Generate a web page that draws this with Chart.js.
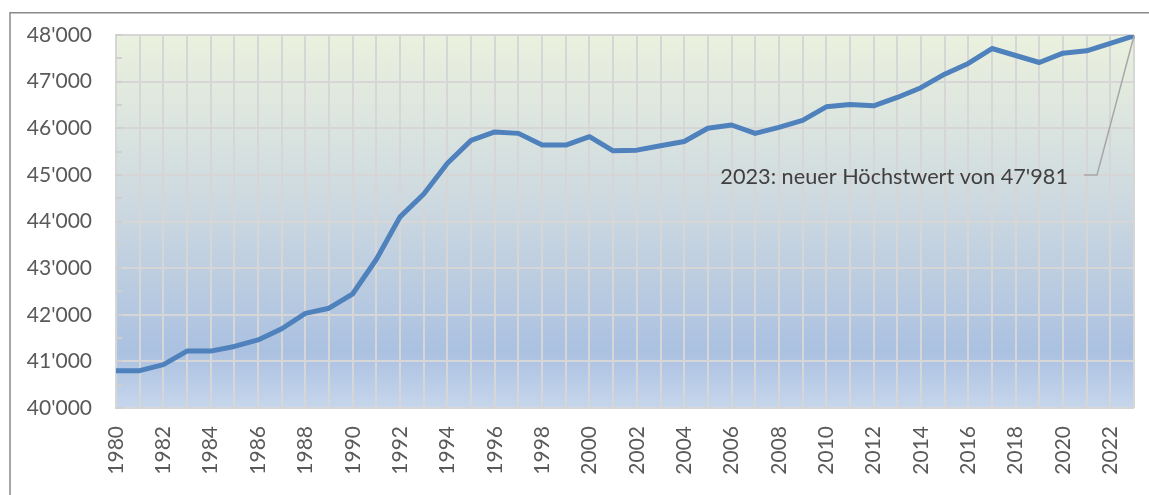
<!DOCTYPE html>
<html>
<head>
<meta charset="utf-8">
<script src="https://cdn.jsdelivr.net/npm/chart.js@4/dist/chart.umd.min.js"></script>
<style>
  html, body { margin: 0; padding: 0; background: #ffffff; }
  #wrap { width: 1149px; height: 495px; position: relative; }
</style>
</head>
<body>
<div id="wrap"><canvas id="c" width="1149" height="495"></canvas></div>
<script>
const years = ['1980','1981','1982','1983','1984','1985','1986','1987','1988','1989',
  '1990','1991','1992','1993','1994','1995','1996','1997','1998','1999',
  '2000','2001','2002','2003','2004','2005','2006','2007','2008','2009',
  '2010','2011','2012','2013','2014','2015','2016','2017','2018','2019',
  '2020','2021','2022','2023'];
const population = [40800, 40800, 40930, 41220, 41220, 41320, 41460, 41700, 42030, 42140,
  42450, 43190, 44100, 44590, 45250, 45740, 45920, 45890, 45640, 45640,
  45820, 45515, 45530, 45625, 45715, 46000, 46070, 45890, 46020, 46170,
  46460, 46510, 46480, 46660, 46870, 47160, 47390, 47710, 47560, 47410,
  47610, 47660, 47820, 47981];
const yMin = 40000;
const yMax = 48000;
const yStep = 500;
const annotationText = "2023: neuer Höchstwert von 47'981";

function fmt(v) {
  return String(v).replace(/\B(?=(\d{3})+(?!\d))/g, "'");
}

const FONT = 'Lato, "Open Sans", sans-serif';

const bgPlugin = {
  id: 'bg',
  beforeDraw(chart) {
    const { ctx, chartArea: a } = chart;
    ctx.save();
    const g = ctx.createLinearGradient(0, a.top, 0, a.bottom);
    g.addColorStop(0, '#ebf1de');
    g.addColorStop(0.45, '#cdd9e0');
    g.addColorStop(0.85, '#abc1e1');
    g.addColorStop(1, '#c6d6ec');
    ctx.fillStyle = g;
    ctx.fillRect(a.left, a.top, a.right - a.left, a.bottom - a.top);
    // outer frame
    ctx.strokeStyle = '#8a8a8a';
    ctx.lineWidth = 1.5;
    ctx.beginPath();
    ctx.moveTo(10, 495);
    ctx.lineTo(10, 12.75);
    ctx.lineTo(1149, 12.75);
    ctx.stroke();
    ctx.restore();
  },
  afterDatasetsDraw(chart) {
    const { ctx, chartArea: a } = chart;
    const ys = chart.scales.y;
    const xs = chart.scales.x;
    ctx.save();
    // inside tick marks on y axis
    ctx.strokeStyle = '#cfcfcf';
    ctx.lineWidth = 2;
    for (let v = yMin; v <= yMax; v += yStep) {
      const py = Math.round(ys.getPixelForValue(v));
      ctx.beginPath();
      ctx.moveTo(a.left, py);
      ctx.lineTo(a.left + 6, py);
      ctx.stroke();
    }
    // annotation leader line + text
    const last = population.length - 1;
    const px = xs.getPixelForValue(last);
    const py = ys.getPixelForValue(population[last]);
    ctx.strokeStyle = '#a6a6a6';
    ctx.lineWidth = 1.5;
    ctx.beginPath();
    ctx.moveTo(1084, 175);
    ctx.lineTo(1097, 175);
    ctx.lineTo(px, py);
    ctx.stroke();
    ctx.fillStyle = '#404040';
    ctx.font = '21.7px ' + FONT;
    ctx.textAlign = 'right';
    ctx.textBaseline = 'alphabetic';
    ctx.fillText(annotationText, 1068, 184);
    ctx.restore();
  }
};

new Chart(document.getElementById('c'), {
  type: 'line',
  data: {
    labels: years,
    datasets: [{
      data: population,
      borderColor: '#4f81bd',
      borderWidth: 5,
      pointRadius: 0,
      pointHoverRadius: 0,
      tension: 0,
      fill: false,
      borderJoinStyle: 'round',
      borderCapStyle: 'butt'
    }]
  },
  options: {
    responsive: false,
    animation: false,
    events: [],
    layout: { padding: { left: 0, top: 35, right: 15, bottom: 0 } },
    plugins: { legend: { display: false }, tooltip: { enabled: false } },
    scales: {
      x: {
        offset: false,
        grid: { color: '#d6d6d6', lineWidth: 2, drawTicks: false, offset: false },
        border: { display: false },
        ticks: {
          autoSkip: false,
          maxRotation: 90,
          minRotation: 90,
          padding: 18,
          color: '#595959',
          font: { family: FONT, size: 21 },
          callback: function (value, index) { return index % 2 === 0 ? years[index] : ''; }
        },
        afterFit(s) { s.height = 87; s.paddingLeft = 0; s.paddingRight = 0; }
      },
      y: {
        min: yMin,
        max: yMax,
        grid: {
          lineWidth: 2,
          drawTicks: false,
          color: (ctx) => (ctx.tick && ctx.tick.value % 1000 === 0) ? '#d6d6d6' : '#f0f0f0'
        },
        border: { display: true, color: '#d6d6d6', width: 2 },
        ticks: {
          stepSize: yStep,
          padding: 24,
          color: '#595959',
          font: { family: FONT, size: 21 },
          callback: (v) => (v % 1000 === 0 ? fmt(v) : '')
        },
        afterFit(s) { s.width = 116; s.paddingTop = 0; s.paddingBottom = 0; }
      }
    }
  },
  plugins: [bgPlugin]
});
</script>
</body>
</html>
